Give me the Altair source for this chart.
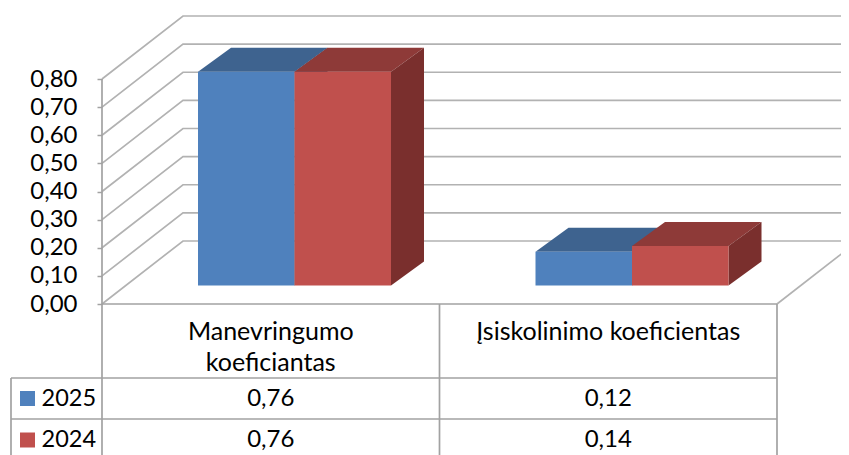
import altair as alt
import pandas as pd

categories = ["Manevringumo koeficiantas", "Įsiskolinimo koeficientas"]
category_lines = [["Manevringumo", "koeficiantas"], ["Įsiskolinimo koeficientas"]]
series_names = ["2025", "2024"]
values_2025 = [0.76, 0.12]
values_2024 = [0.76, 0.14]
axis_ticks = [0.0, 0.1, 0.2, 0.3, 0.4, 0.5, 0.6, 0.7, 0.8]
front_colors = ["#4F81BD", "#C0504D"]
top_colors = ["#3E638F", "#8E3A38"]
side_colors = ["#35557C", "#7A2F2D"]

FONT = "Lato"
FS = 24
FS_CAT = 25
FS_LEGEND = 23.5
GRID = "#b2b2b2"
TABLE = "#a2a2a2"

# layout: one category is 337.5 px wide, one value unit is 281.25 px tall
PX = 337.5
PY = 281.25
W, H = 675, 225
L0, B0 = 102, 304  # pixel position of the data origin in the page


def dx(px):
    return px / PX


def dy(px):
    return px / PY


def xp(px):
    return (px - L0) / PX


def yp(px):
    return (B0 - px) / PY


WALL_X, WALL_Y = dx(81), dy(63)
BAR_X, BAR_Y = dx(33), dy(24)
BAR_W = dx(96.5)
BAR_OFFSET = xp(198)
BAR_BASE = dy(18.6)

# ---- gridlines and frame
rows = []
for i, v in enumerate(axis_ticks):
    for k, (x, y) in enumerate([(0, v), (WALL_X, v + WALL_Y), (2.4, v + WALL_Y)]):
        rows.append(dict(id=f"g{i}", o=k, x=x, y=y))
for k, (x, y) in enumerate([(2, 0), (2 + WALL_X, WALL_Y)]):
    rows.append(dict(id="floor", o=k, x=x, y=y))
grid = (
    alt.Chart(pd.DataFrame(rows))
    .mark_line(color=GRID, strokeWidth=1.7, clip=False)
    .encode(
        x=alt.X("x:Q", scale=alt.Scale(domain=[0, 2], nice=False), axis=None),
        y=alt.Y(
            "y:Q",
            scale=alt.Scale(domain=[0, 0.8], nice=False, zero=False),
            axis=alt.Axis(
                values=axis_ticks,
                tickCount=len(axis_ticks),
                title=None,
                domain=False,
                grid=False,
                ticks=True,
                tickSize=5,
                tickColor=TABLE,
                tickWidth=1.5,
                labelFont=FONT,
                labelFontSize=FS,
                labelColor="#000000",
                labelPadding=20,
                labelOverlap=False,
                labelExpr="replace(format(datum.value, '.2f'), '.', ',')",
            ),
        ),
        detail="id:N",
        order="o:Q",
    )
)

# ---- table rules
row1, row2, page_bottom = yp(378), yp(419), yp(455)
left = xp(11)
segments = [
    (0, 0.8, 0, page_bottom),
    (1, 0, 1, page_bottom),
    (2, 0, 2, page_bottom),
    (left, row1, left, page_bottom),
    (left, row1, 2, row1),
    (left, row2, 2, row2),
    (0, 0, 2, 0),
]
rows = []
for i, (x1, y1, x2, y2) in enumerate(segments):
    rows.append(dict(id=f"t{i}", o=0, x=x1, y=y1))
    rows.append(dict(id=f"t{i}", o=1, x=x2, y=y2))
table = (
    alt.Chart(pd.DataFrame(rows))
    .mark_line(color=TABLE, strokeWidth=1.7, clip=False)
    .encode(x="x:Q", y="y:Q", detail="id:N", order="o:Q")
)


def face(rows, color):
    return (
        alt.Chart(pd.DataFrame(rows))
        .mark_area(color=color, opacity=1, interpolate="linear", orient="vertical")
        .encode(x=alt.X("x:Q"), y=alt.Y("low:Q"), y2=alt.Y2("high:Q"), detail="id:N")
    )


# ---- 3D columns
all_values = [values_2025, values_2024]
bar_layers = []
for s, vals in enumerate(all_values):
    tops, sides, fronts = [], [], []
    for c, v in enumerate(vals):
        a = c + BAR_OFFSET + s * BAR_W
        b = a + BAR_W
        base, t = BAR_BASE, BAR_BASE + v
        for x, y1, y2 in [
            (a, t, t),
            (a + BAR_X, t, t + BAR_Y),
            (b, t, t + BAR_Y),
            (b + BAR_X, t + BAR_Y, t + BAR_Y),
        ]:
            tops.append(dict(id=f"c{c}", x=x, low=y1, high=y2))
        for x, y1, y2 in [(b, base, t), (b + BAR_X, base + BAR_Y, t + BAR_Y)]:
            sides.append(dict(id=f"c{c}", x=x, low=y1, high=y2))
        fronts.append(dict(x=a, x2=b, y=base, y2=t, color=front_colors[s]))
    bar_layers.append(face(tops, top_colors[s]))
    bar_layers.append(face(sides, side_colors[s]))
    bar_layers.append(
        alt.Chart(pd.DataFrame(fronts))
        .mark_rect(clip=False)
        .encode(
            x="x:Q",
            x2="x2:Q",
            y="y:Q",
            y2="y2:Q",
            color=alt.Color("color:N", scale=None),
        )
    )

# ---- table text
fmt = lambda v: f"{v:.2f}".replace(".", ",")
text_rows = []
line_y = [yp(332), yp(363)]
for c, lines in enumerate(category_lines):
    for n, line in enumerate(lines):
        text_rows.append(dict(label=line, x=c + 0.5, y=line_y[n]))
cat_cells = (
    alt.Chart(pd.DataFrame(text_rows))
    .mark_text(font=FONT, fontSize=FS_CAT, color="#000000", align="center", baseline="middle")
    .encode(x="x:Q", y="y:Q", text="label:N")
)
text_rows = []
row_y = [yp(398.5), yp(440)]
for s, vals in enumerate(all_values):
    for c, v in enumerate(vals):
        text_rows.append(dict(label=fmt(v), x=c + 0.5, y=row_y[s]))
cells = (
    alt.Chart(pd.DataFrame(text_rows))
    .mark_text(font=FONT, fontSize=FS, color="#000000", align="center", baseline="middle")
    .encode(x="x:Q", y="y:Q", text="label:N")
)
legend_text = (
    alt.Chart(pd.DataFrame([dict(label=n, x=xp(41.5), y=row_y[s]) for s, n in enumerate(series_names)]))
    .mark_text(font=FONT, fontSize=FS_LEGEND, color="#000000", align="left", baseline="middle")
    .encode(x="x:Q", y="y:Q", text="label:N")
)
swatches = (
    alt.Chart(
        pd.DataFrame(
            [
                dict(x=xp(20), x2=xp(35), y=row_y[s] + dy(7.5), y2=row_y[s] - dy(7.5), color=front_colors[s])
                for s in range(2)
            ]
        )
    )
    .mark_rect(clip=False)
    .encode(x="x:Q", x2="x2:Q", y="y:Q", y2="y2:Q", color=alt.Color("color:N", scale=None))
)

chart = (
    alt.layer(grid, table, *bar_layers, swatches, cat_cells, cells, legend_text)
    .properties(
        width=W,
        height=H,
        padding={"left": 94, "top": 71, "right": 64, "bottom": 151},
        autosize=alt.AutoSizeParams(type="none"),
        background="#ffffff",
    )
    .configure_view(stroke=None)
)
chart.save("out.html", embed_options={"renderer": "svg", "actions": False})
